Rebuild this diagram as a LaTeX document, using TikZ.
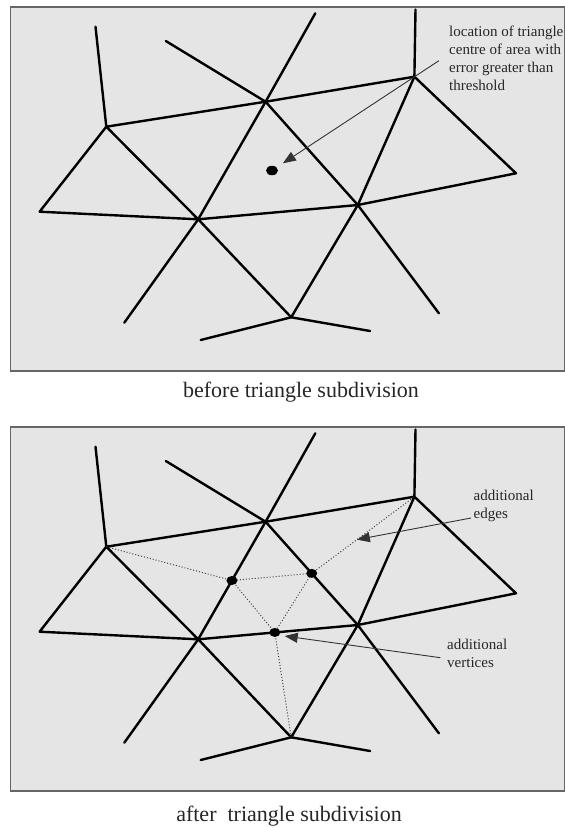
\documentclass[tikz,border=0pt]{standalone}
\usepackage{fontspec}
\setmainfont{Liberation Serif}
\usetikzlibrary{arrows.meta,calc,shapes.geometric}
\tikzset{
  panelframe/.style={draw=black!60,line width=1.4pt,fill=black!10},
  meshline/.style={line width=2.4pt,line join=round,line cap=round,black},
  newedge/.style={line width=1pt,dotted,black!75},
  pointer/.style={line width=0.9pt,black!80,-{Triangle[length=13pt,width=10pt]}},
  vdot/.style={ellipse,fill=black,inner sep=0pt,minimum width=11pt,minimum height=9pt},
  bigdot/.style={ellipse,fill=black,inner sep=0pt,minimum width=12pt,minimum height=9.5pt},
  lbl/.style={anchor=north west,align=left,inner sep=0pt,text=black!85,
    font=\fontsize{15}{18}\selectfont},
  caption/.style={anchor=base,inner sep=0pt,text=black!85,
    font=\fontsize{22}{26}\selectfont}
}
\newcommand\meshpanel[2]{%
\begin{scope}[yshift=-#2pt]
  \draw[panelframe] (10.5,7) rectangle (564.5,371);
  \coordinate (#1A) at (106.3,126.7);
  \coordinate (#1At) at (95.5,26.7);
  \coordinate (#1B) at (265.6,101.7);
  \coordinate (#1C) at (414.4,76.7);
  \coordinate (#1Ct) at (415.5,9.5);
  \coordinate (#1D) at (516,173.3);
  \coordinate (#1E) at (39.6,211.7);
  \coordinate (#1F) at (198.2,219.3);
  \coordinate (#1G) at (357.8,205);
  \coordinate (#1H) at (291.2,317.3);
  \coordinate (#1Bul) at (165.8,41);
  \coordinate (#1Bur) at (315.3,13.3);
  \coordinate (#1Glr) at (438.9,313.3);
  \coordinate (#1Fll) at (124.3,322.7);
  \coordinate (#1Hl) at (200.7,340);
  \coordinate (#1Hr) at (370.1,331);
  \draw[meshline] (#1At) -- (#1A) -- (#1B) -- (#1C) -- (#1D) -- (#1G) -- (#1F) -- (#1E) -- (#1A) -- (#1F) -- (#1H) -- (#1G) -- (#1C) -- (#1Ct);
  \draw[meshline] (#1Bul) -- (#1B) -- (#1G) -- (#1Glr);
  \draw[meshline] (#1Bur) -- (#1B) -- (#1F) -- (#1Fll);
  \draw[meshline] (#1Hl) -- (#1H) -- (#1Hr);
\end{scope}}
\begin{document}
\begin{tikzpicture}[x=1pt,y=-1pt]
\useasboundingbox (0,0) rectangle (565,828);
\fill[white] (0,0) rectangle (565,828);
% ---------- before ----------
\meshpanel{t}{0}
\node[bigdot] (tdot) at (272,170.5) {};
\coordinate (tstart) at (438.9,60.7);
\coordinate (ttip) at (282.9,163.3);
\draw[pointer] (tstart) -- (ttip);
\node[lbl] (tlabel) at (449,26.2) {location of triangle\\centre of area with\\error greater than\\threshold};
\node[caption] (tcap) at (301,397) {before triangle subdivision};
% ---------- after ----------
\meshpanel{b}{420}
\begin{scope}[yshift=-420pt]
  \coordinate (P1c) at ($(bB)!0.5!(bF)$);
  \coordinate (P2c) at ($(bB)!0.5!(bG)$);
  \coordinate (P3c) at ($(bF)!0.48!(bG)$);
  \draw[newedge] (bA) -- (P1c) -- (P2c) -- (bC);
  \draw[newedge] (P1c) -- (P3c) -- (P2c);
  \draw[newedge] (P3c) -- (bH);
  \node[vdot] (P1) at (P1c) {};
  \node[vdot] (P2) at (P2c) {};
  \node[vdot] (P3) at (P3c) {};
  \coordinate (estart) at (471,98);
  \coordinate (etip) at ($(P2c)!0.44!(bC)$);
  \draw[pointer] (estart) -- (etip);
  \coordinate (vstart) at (440.4,237.7);
  \coordinate (vtip) at (284.7,216);
  \draw[pointer] (vstart) -- (vtip);
  \node[lbl] (elabel) at (473.5,69.6) {additional\\edges};
  \node[lbl] (vlabel) at (447,218.4) {additional\\vertices};
\end{scope}
\node[caption] (bcap) at (289,821.7) {after\ \ triangle subdivision};
\end{tikzpicture}
\end{document}
